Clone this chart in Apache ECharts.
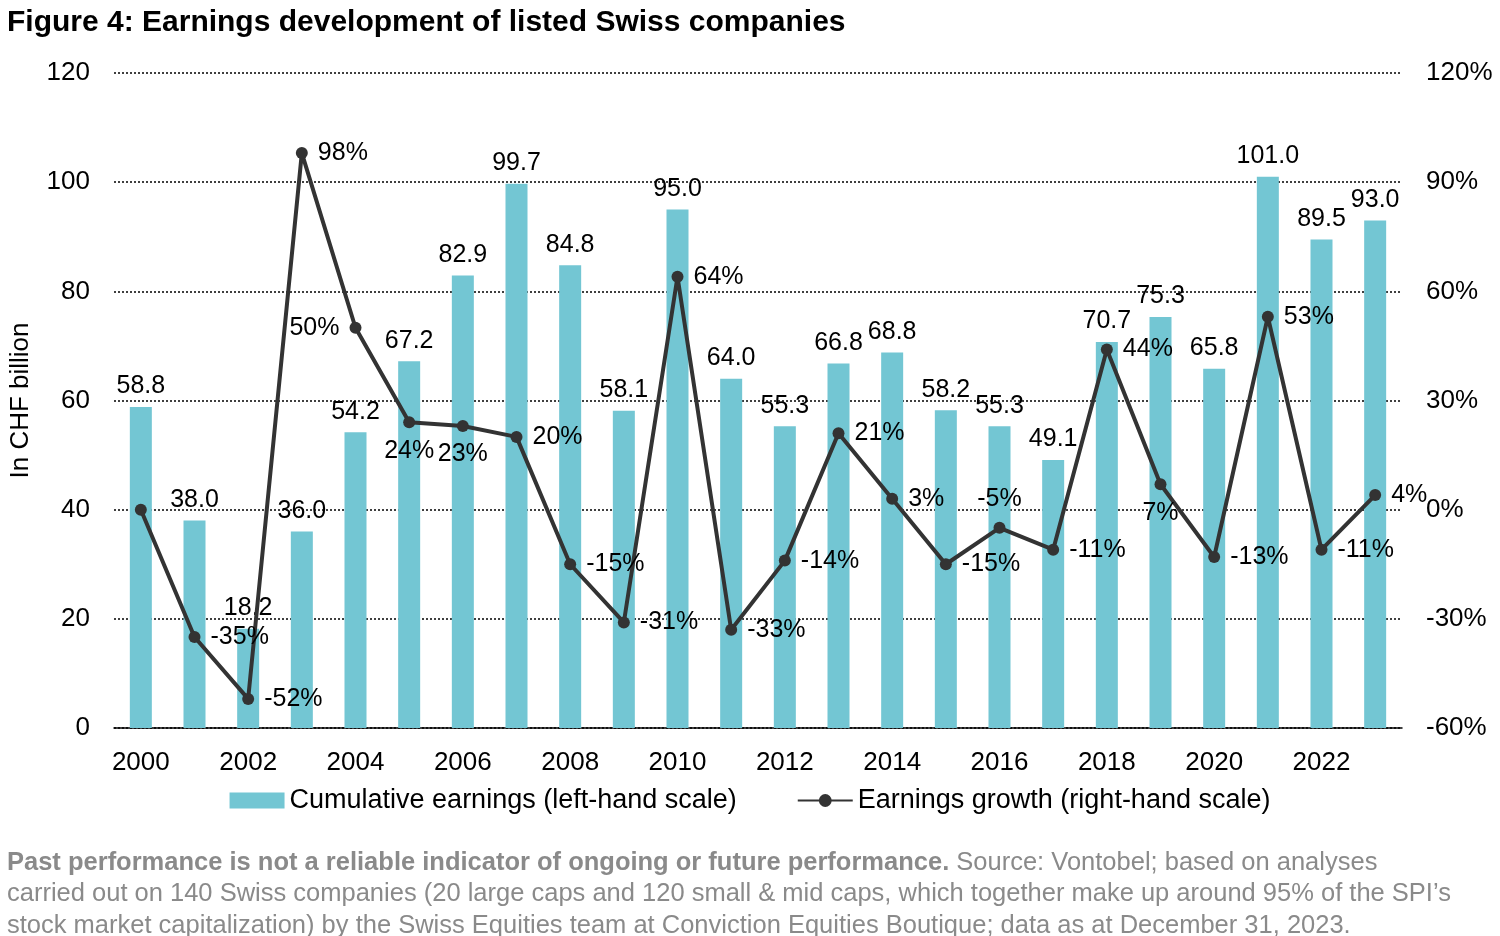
<!DOCTYPE html>
<html><head><meta charset="utf-8">
<script src="https://cdn.jsdelivr.net/npm/echarts@6/dist/echarts.min.js"></script>
<style>html,body{margin:0;padding:0;background:#fff}#c{width:1500px;height:936px}</style>
</head><body><div id="c"></div>
<script>
const years = ['2000','2001','2002','2003','2004','2005','2006','2007','2008','2009','2010','2011','2012','2013','2014','2015','2016','2017','2018','2019','2020','2021','2022','2023'];
const earnings = [58.8,38.0,18.2,36.0,54.2,67.2,82.9,99.7,84.8,58.1,95.0,64.0,55.3,66.8,68.8,58.2,55.3,49.1,70.7,75.3,65.8,101.0,89.5,93.0];
const growth = [0,-35,-52,98,50,24,23,20,-15,-31,64,-33,-14,21,3,-15,-5,-11,44,7,-13,53,-11,4];
const growthLabelPos = [null,'right','right','right','left','bottom','bottom','right','right','right','right','right','right','right','right','right','top','right','right','bottom','right','right','right','right'];

const chart = echarts.init(document.getElementById('c'));
const font = 'Arial, "Liberation Sans", sans-serif';
chart.setOption({
  animation:false,
  textStyle:{fontFamily:font},
  title:[{text:'Figure 4: Earnings development of listed Swiss companies',left:2,top:3,
    textStyle:{fontSize:30,fontWeight:'bold',color:'#000',fontFamily:font}},
   {text:'{b|Past performance is not a reliable indicator of ongoing or future performance.} Source: Vontobel; based on analyses\ncarried out on 140 Swiss companies (20 large caps and 120 small & mid caps, which together make up around 95% of the SPI\u2019s\nstock market capitalization) by the Swiss Equities team at Conviction Equities Boutique; data as at December 31, 2023.',
    left:2,top:842,textStyle:{fontSize:25.5,fontWeight:'normal',color:'#8a8a8a',lineHeight:31.5,fontFamily:font,
    rich:{b:{fontSize:25.5,fontWeight:'bold',color:'#8a8a8a',fontFamily:font}}}}],
  legend:{bottom:117,left:'center',itemGap:60,itemWidth:55,itemHeight:16,textStyle:{fontSize:27,color:'#000'},
    data:[{name:'Cumulative earnings (left-hand scale)',icon:'rect'},{name:'Earnings growth (right-hand scale)'}]},
  grid:{left:113,right:98,top:73,bottom:208},
  xAxis:{type:'category',data:years,axisTick:{show:false},
    axisLine:{lineStyle:{color:'#000',width:1.5}},
    axisLabel:{interval:1,fontSize:26,color:'#000',margin:22}},
  yAxis:[{type:'value',min:0,max:120,interval:20,name:'In CHF billion',nameLocation:'middle',nameGap:80,
    nameTextStyle:{fontSize:26,color:'#000'},
    axisLabel:{fontSize:26,color:'#000',margin:24},
    splitLine:{lineStyle:{color:'#000',type:[2,2],width:1.5}}},
   {type:'value',min:-60,max:120,interval:30,axisLabel:{formatter:'{value}%',fontSize:26,color:'#000',margin:24},
    splitLine:{show:false}}],
  series:[{name:'Cumulative earnings (left-hand scale)',type:'bar',data:earnings,barWidth:22,
    itemStyle:{color:'#73c6d3'},
    label:{show:true,position:'top',distance:8,fontSize:25,color:'#000',formatter:p=>p.value.toFixed(1)}},
   {name:'Earnings growth (right-hand scale)',type:'line',yAxisIndex:1,
    data:growth.map((v,i)=>({value:v,label:growthLabelPos[i]?{show:true,position:growthLabelPos[i]}:{show:false}})),
    symbol:'circle',symbolSize:12,lineStyle:{color:'#333',width:4},itemStyle:{color:'#333'},
    label:{fontSize:25,color:'#000',distance:10,formatter:p=>p.value+'%'}}]
});
</script></body></html>
